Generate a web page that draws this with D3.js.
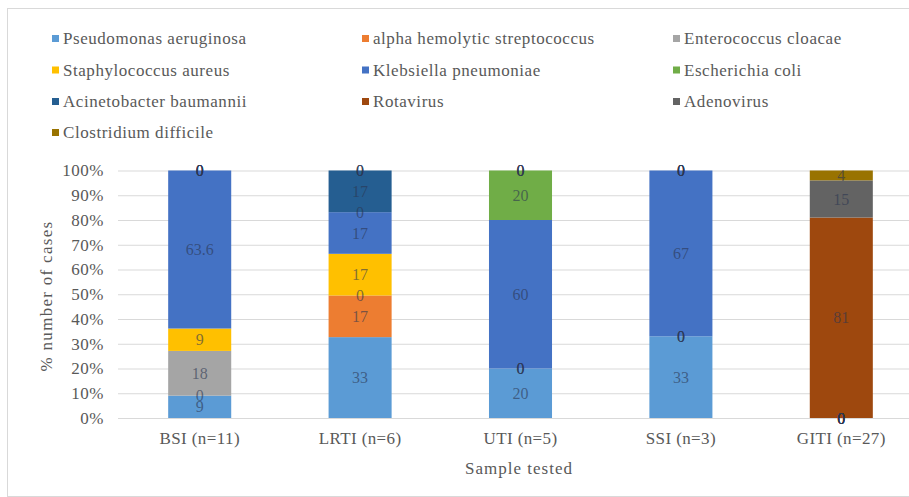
<!DOCTYPE html>
<html>
<head>
<meta charset="utf-8">
<script src="https://cdn.jsdelivr.net/npm/d3@7"></script>
<style>
  body { margin: 0; background: #fff; }
  svg text { font-family: "Liberation Serif", "Times New Roman", "DejaVu Serif", serif; }
</style>
</head>
<body>
<svg id="chart" width="909" height="497"></svg>
<script>

// Data

const categories = ["BSI (n=11)", "LRTI (n=6)", "UTI (n=5)", "SSI (n=3)", "GITI (n=27)"];

const organisms = [
    "Pseudomonas aeruginosa", "alpha hemolytic streptococcus", "Enterococcus cloacae",
    "Staphylococcus aureus", "Klebsiella pneumoniae", "Escherichia coli",
    "Acinetobacter baumannii", "Rotavirus", "Adenovirus", "Clostridium difficile"
];

const colors = [
    "#5B9BD5", "#ED7D31", "#A5A5A5", "#FFC000", "#4472C4",
    "#70AD47", "#255E91", "#9E480E", "#636363", "#997300"
];

// one array per organism, values per category (BSI, LRTI, UTI, SSI, GITI)
const pseudomonas    = [9, 33, 20, 33, 0];
const alphaStrep     = [0, 17, 0, 0, 0];
const enterococcus   = [18, 0, 0, 0, 0];
const staphylococcus = [9, 17, 0, 0, 0];
const klebsiella     = [63.6, 17, 60, 67, 0];
const ecoli          = [0, 0, 20, 0, 0];
const acinetobacter  = [0, 17, 0, 0, 0];
const rotavirus      = [0, 0, 0, 0, 81];
const adenovirus     = [0, 0, 0, 0, 15];
const clostridium    = [0, 0, 0, 0, 4];

const seriesValues = [pseudomonas, alphaStrep, enterococcus, staphylococcus, klebsiella,
    ecoli, acinetobacter, rotavirus, adenovirus, clostridium];

const yTicks = [0, 0.1, 0.2, 0.3, 0.4, 0.5, 0.6, 0.7, 0.8, 0.9, 1];

const rows = categories.map((c, i) => {
    const row = { category: c };
    organisms.forEach((o, j) => row[o] = seriesValues[j][i]);
    return row;
});

// Layout

const svg = d3.select("#chart");
const textColor = "#595959";
const gridColor = "#D9D9D9";

svg.append("rect")
    .attr("x", 7.5).attr("y", 8.5)
    .attr("width", 940).attr("height", 488)
    .attr("fill", "#fff")
    .attr("stroke", gridColor);

const x = d3.scaleBand()
    .domain(categories)
    .range([119.5, 921.5])
    .paddingInner(0.607)
    .paddingOuter(0.3035);

const y = d3.scaleLinear()
    .domain([0, 1])
    .range([418, 170.5]);

// Gridlines + y axis

const yAxis = svg.append("g")
    .attr("transform", "translate(118,0)")
    .call(d3.axisLeft(y)
        .tickValues(yTicks)
        .tickFormat(d3.format(".0%"))
        .tickSize(-820)
        .tickPadding(14));

yAxis.attr("font-family", null);
yAxis.select(".domain").remove();
yAxis.selectAll(".tick line").attr("stroke", gridColor);
yAxis.selectAll(".tick text")
    .attr("fill", textColor)
    .style("font-size", "17px")
    .style("letter-spacing", "0.5px");

// Bars

const stack = d3.stack()
    .keys(organisms)
    .offset(d3.stackOffsetExpand);

const stacked = stack(rows);

const layers = svg.append("g")
    .selectAll("g")
    .data(stacked)
    .join("g")
    .attr("fill", (d, i) => colors[i]);

layers.selectAll("rect")
    .data(d => d)
    .join("rect")
    .attr("x", d => x(d.data.category))
    .attr("y", d => y(d[1]))
    .attr("width", x.bandwidth())
    .attr("height", d => y(d[0]) - y(d[1]));

// Data labels

const labels = svg.append("g")
    .selectAll("g")
    .data(stacked)
    .join("g");

labels.selectAll("text")
    .data(d => d.map(p => ({ p, key: d.key })))
    .join("text")
    .attr("x", d => x(d.p.data.category) + x.bandwidth() / 2)
    .attr("y", d => y((d.p[0] + d.p[1]) / 2))
    .attr("dy", "0.35em")
    .attr("text-anchor", "middle")
    .attr("fill", "#2b3550")
    .attr("fill-opacity", 0.6)
    .style("font-size", "16px")
    .text(d => d.p.data[d.key]);

// Category axis

const xAxis = svg.append("g")
    .attr("transform", "translate(0,418)")
    .call(d3.axisBottom(x).tickSize(0).tickPadding(14));

xAxis.attr("font-family", null);
xAxis.select(".domain").remove();
xAxis.selectAll(".tick text")
    .attr("fill", textColor)
    .style("font-size", "17px")
    .style("letter-spacing", "0.4px");

// Axis titles

svg.append("text")
    .attr("x", 519).attr("y", 474)
    .attr("text-anchor", "middle")
    .attr("fill", textColor)
    .style("font-size", "17px")
    .style("letter-spacing", "1px")
    .text("Sample tested");

svg.append("text")
    .attr("transform", "translate(52,296) rotate(-90)")
    .attr("text-anchor", "middle")
    .attr("fill", textColor)
    .style("font-size", "17px")
    .style("letter-spacing", "1.3px")
    .text("% number of cases");

// Legend

const legendCols = [52, 362, 673];
const legendRows = [38.5, 70, 101.5, 132.5];

const legend = svg.append("g")
    .selectAll("g")
    .data(organisms)
    .join("g")
    .attr("transform", (d, i) => `translate(${legendCols[i % 3]},${legendRows[Math.floor(i / 3)]})`);

legend.append("rect")
    .attr("x", 0).attr("y", -3.5)
    .attr("width", 7).attr("height", 7)
    .attr("fill", (d, i) => colors[i]);

legend.append("text")
    .attr("x", 11)
    .attr("dy", "0.35em")
    .attr("fill", textColor)
    .style("font-size", "17px")
    .style("letter-spacing", "0.55px")
    .text(d => d);

</script>
</body>
</html>
